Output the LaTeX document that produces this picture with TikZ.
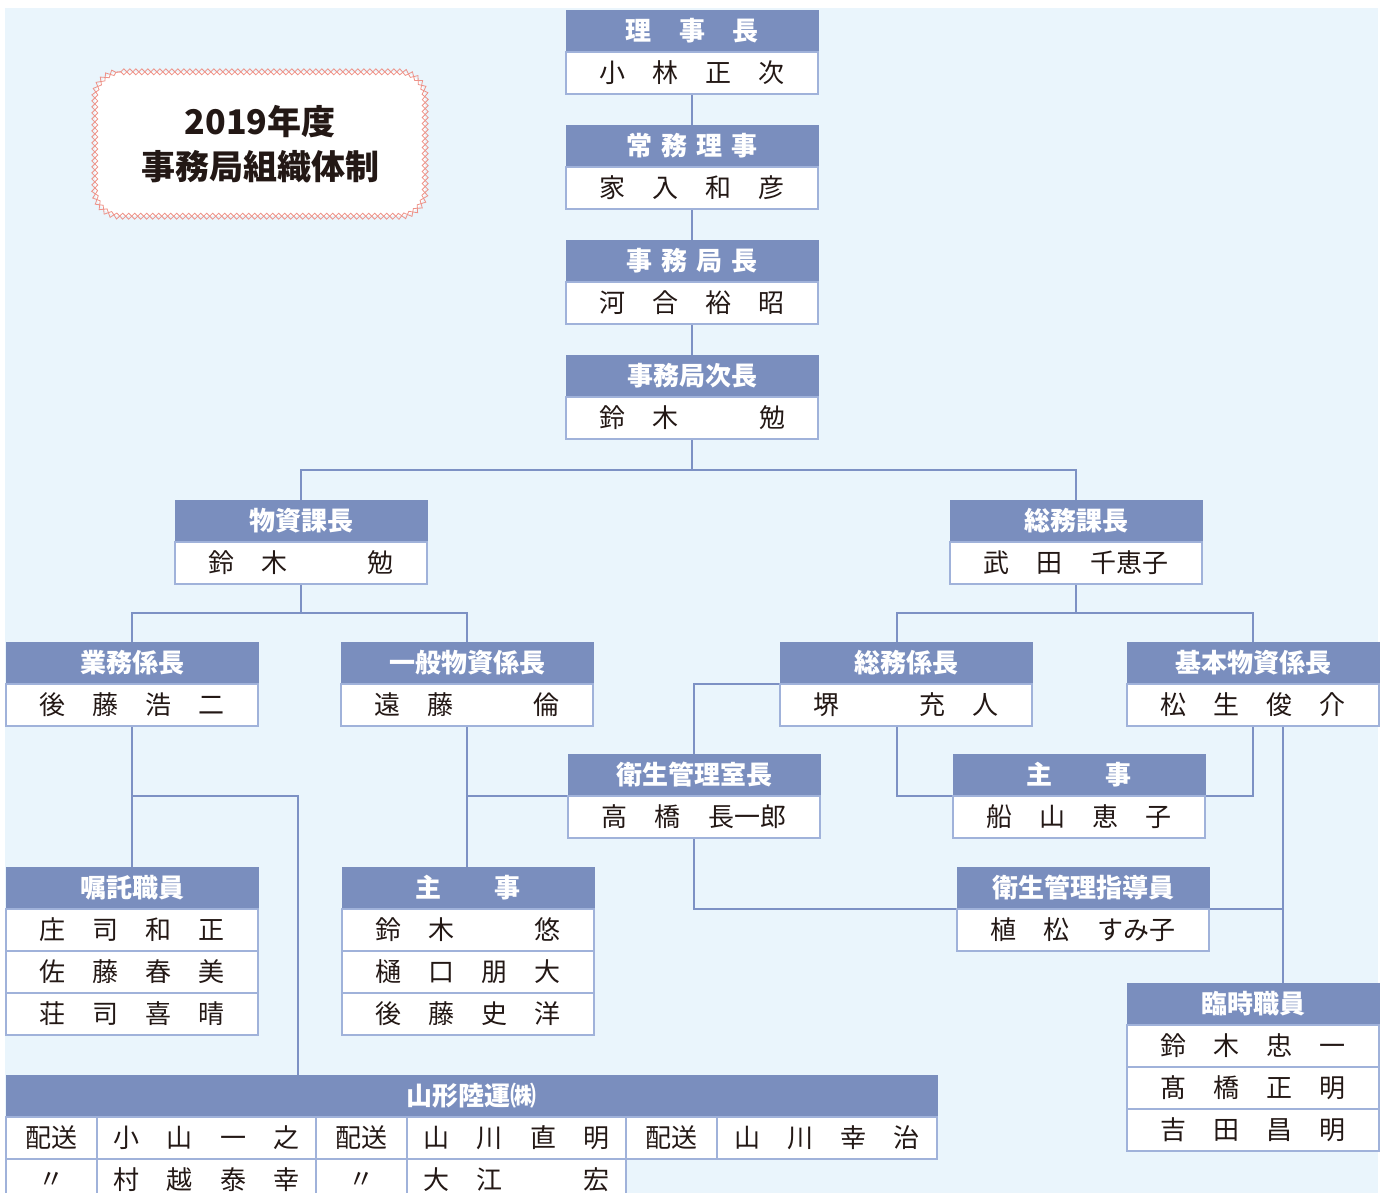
\documentclass[tikz,border=0pt]{standalone}
\usepackage{fontspec}
\newfontfamily\jp{Noto Sans CJK JP}
\usetikzlibrary{decorations.pathmorphing}
\definecolor{bgc}{RGB}{234,245,252}
\definecolor{hdrc}{RGB}{122,142,190}
\definecolor{bordc}{RGB}{160,178,218}
\definecolor{connc}{RGB}{125,145,196}
\definecolor{pinkc}{RGB}{238,146,136}
\definecolor{txtc}{RGB}{35,24,21}
\newcommand\slotc[2]{\makebox[#1pt]{#2}}
\newcommand\nmq[4]{\slotc{53.33}{#1}\slotc{53.33}{#2}\slotc{53.33}{#3}\slotc{53.33}{#4}}
\newcommand\nmt[3]{\slotc{53.33}{#1}\slotc{53.33}{#2}\slotc{106.67}{#3}}
\pgfdeclarelayer{bg}
\pgfdeclarelayer{lines}
\pgfsetlayers{bg,lines,main}
\tikzset{
  hdr/.style={anchor=north west, fill=hdrc, draw=hdrc, line width=0.6pt, text=white,
    font={\jp\bfseries\fontsize{26pt}{26pt}\selectfont}, minimum width=252pt,
    minimum height=42pt, inner sep=0pt, outer sep=0pt},
  nm/.style={anchor=north west, fill=white, draw=bordc, line width=1.4pt, text=txtc,
    font={\jp\fontsize{26pt}{26pt}\selectfont}, minimum width=252pt,
    minimum height=42pt, inner sep=0pt, outer sep=0pt},
  conn/.style={draw=connc, line width=2pt},
  titlebox/.style={fill=white, text=txtc, align=center,
    font={\jp\bfseries\fontsize{34pt}{45pt}\selectfont},
    minimum width=330pt, minimum height=144pt, rounded corners=26pt, inner sep=0pt},
  zz/.style={draw=pinkc, line width=0.8pt, decorate,
    decoration={zigzag, segment length=12pt, amplitude=#1}}
}
\begin{document}
\begin{tikzpicture}[x=1pt,y=-1pt]
\useasboundingbox (0,0) rectangle (1387,1193);
\begin{pgfonlayer}{bg}
  \fill[white] (0,0) rectangle (1387,1193);
  \fill[bgc] (5,8) rectangle (1378,1193);
\end{pgfonlayer}

% title
\node[titlebox] (T) at (260,144) {2019年度\\事務局組織体制};
\foreach \amp in {3pt,-3pt}{
  \draw[zz=\amp] ([xshift=26pt]T.north west) -- ([xshift=-26pt]T.north east)
    arc[start angle=90,end angle=0,radius=26pt] -- ([yshift=26pt]T.south east)
    arc[start angle=0,end angle=-90,radius=26pt] -- ([xshift=26pt]T.south west)
    arc[start angle=-90,end angle=-180,radius=26pt] -- ([yshift=-26pt]T.north west)
    arc[start angle=180,end angle=90,radius=26pt] -- cycle;
}

% top chain
\node[hdr] (ah) at (566,10) {\slotc{53.3}{理}\slotc{53.3}{事}\slotc{53.3}{長}};
\node[nm] (an) at (ah.south west) {\nmq{小}{林}{正}{次}};
\node[hdr] (bh) at (566,125) {\slotc{35.3}{常}\slotc{35.3}{務}\slotc{35.3}{理}\slotc{35.3}{事}};
\node[nm] (bn) at (bh.south west) {\nmq{家}{入}{和}{彦}};
\node[hdr] (ch) at (566,240) {\slotc{35.3}{事}\slotc{35.3}{務}\slotc{35.3}{局}\slotc{35.3}{長}};
\node[nm] (cn) at (ch.south west) {\nmq{河}{合}{裕}{昭}};
\node[hdr] (dh) at (566,355) {事務局次長};
\node[nm] (dn) at (dh.south west) {\nmq{鈴}{木}{}{勉}};

% section heads
\node[hdr] (eh) at (175,500) {物資課長};
\node[nm] (en) at (eh.south west) {\nmq{鈴}{木}{}{勉}};
\node[hdr] (fh) at (950,500) {総務課長};
\node[nm] (fn) at (fh.south west) {\nmt{武}{田}{千恵子}};

% chiefs
\node[hdr] (gh) at (6,642) {業務係長};
\node[nm] (gn) at (gh.south west) {\nmq{後}{藤}{浩}{二}};
\node[hdr] (hh) at (341,642) {一般物資係長};
\node[nm] (hn) at (hh.south west) {\nmq{遠}{藤}{}{倫}};
\node[hdr] (ih) at (780,642) {総務係長};
\node[nm] (in) at (ih.south west) {\nmq{堺}{}{充}{人}};
\node[hdr] (jh) at (1127,642) {基本物資係長};
\node[nm] (jn) at (jh.south west) {\nmq{松}{生}{俊}{介}};

\node[hdr] (kh) at (568,754) {衛生管理室長};
\node[nm] (kn) at (kh.south west) {\nmt{高}{橋}{長一郎}};
\node[hdr] (lh) at (953,754) {\slotc{80}{主}\slotc{80}{事}};
\node[nm] (ln) at (lh.south west) {\nmq{船}{山}{恵}{子}};
\node[hdr] (mh) at (957,867) {衛生管理指導員};
\node[nm] (mn) at (mh.south west) {\nmt{植}{松}{すみ子}};

\node[hdr] (nh) at (1127,983) {臨時職員};
\node[nm] (nn1) at (nh.south west) {\nmq{鈴}{木}{忠}{一}};
\node[nm] (nn2) at (nn1.south west) {\nmq{髙}{橋}{正}{明}};
\node[nm] (nn3) at (nn2.south west) {\nmq{吉}{田}{昌}{明}};

\node[hdr] (oh) at (6,867) {嘱託職員};
\node[nm] (on1) at (oh.south west) {\nmq{庄}{司}{和}{正}};
\node[nm] (on2) at (on1.south west) {\nmq{佐}{藤}{春}{美}};
\node[nm] (on3) at (on2.south west) {\nmq{荘}{司}{喜}{晴}};

\node[hdr] (ph) at (342,867) {\slotc{80}{主}\slotc{80}{事}};
\node[nm] (pn1) at (ph.south west) {\nmq{鈴}{木}{}{悠}};
\node[nm] (pn2) at (pn1.south west) {\nmq{樋}{口}{朋}{大}};
\node[nm] (pn3) at (pn2.south west) {\nmq{後}{藤}{史}{洋}};

% contractor table
\node[hdr, minimum width=931pt] (qh) at (6,1075) {山形陸運㈱};
\node[nm, minimum width=91pt] (q11) at (qh.south west) {配送};
\node[nm, minimum width=219pt] (q12) at (q11.north east) {\nmq{小}{山}{一}{之}};
\node[nm, minimum width=91pt] (q13) at (q12.north east) {配送};
\node[nm, minimum width=219pt] (q14) at (q13.north east) {\nmq{山}{川}{直}{明}};
\node[nm, minimum width=91pt] (q15) at (q14.north east) {配送};
\node[nm, minimum width=220pt] (q16) at (q15.north east) {\nmq{山}{川}{幸}{治}};
\node[nm, minimum width=91pt] (q21) at (q11.south west) {〃};
\node[nm, minimum width=219pt] (q22) at (q21.north east) {\nmq{村}{越}{泰}{幸}};
\node[nm, minimum width=91pt] (q23) at (q22.north east) {〃};
\node[nm, minimum width=219pt] (q24) at (q23.north east) {\nmq{大}{江}{}{宏}};

% connectors
\begin{pgfonlayer}{lines}
  \draw[conn] (an.south) -- (bh.north);
  \draw[conn] (bn.south) -- (ch.north);
  \draw[conn] (cn.south) -- (dh.north);
  \draw[conn] (dn.south) -- ++(0,31);
  \draw[conn] (eh.north) -- ++(0,-30) -| (fh.north);
  \draw[conn] (en.south) -- ++(0,29);
  \draw[conn] (gh.north) -- ++(0,-29) -| (hh.north);
  \draw[conn] (fn.south) -- ++(0,29);
  \coordinate (iT) at (897,642);
  \draw[conn] (iT) -- ++(0,-29) -| (jh.north);
  \draw[conn] (iT |- in.south) |- (lh.south west);
  \draw[conn] (jn.south) |- (lh.south east);
  \coordinate (jR) at (1283,726);
  \draw[conn] (jR) -- (jR |- nh.north);
  \draw[conn] (kn.south) |- (jR |- mh.south);
  \draw[conn] (ih.south west) -| (kh.north);
  \draw[conn] (hn.south) -- (hn.south |- ph.north);
  \draw[conn] (kh.south west) -- (kh.south west -| hn.south);
  \draw[conn] (gn.south) -- (gn.south |- oh.north);
  \coordinate (qT) at (298,1075);
  \draw[conn] (qT) |- (gn.south |- kh.south);
\end{pgfonlayer}
\end{tikzpicture}
\end{document}
